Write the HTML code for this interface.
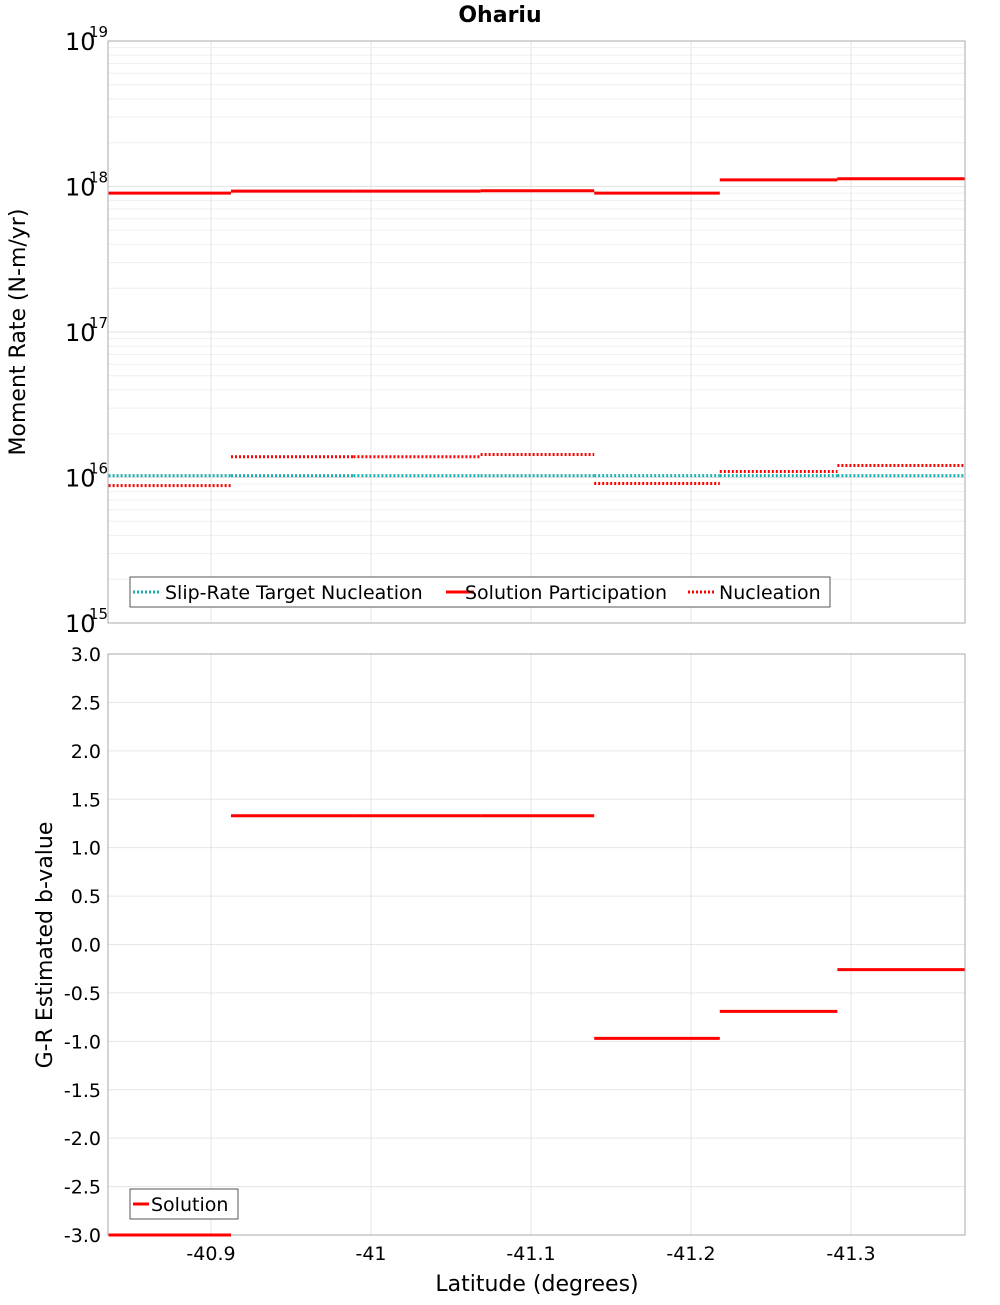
<!DOCTYPE html>
<html><head><meta charset="utf-8"><style>
body{margin:0;background:#fff;font-family:"Liberation Sans","DejaVu Sans",sans-serif}
svg text{font-family:"DejaVu Sans","Liberation Sans",sans-serif}
</style></head><body>
<svg id="chart" width="1000" height="1300" xmlns="http://www.w3.org/2000/svg">
<text x="500" y="22" text-anchor="middle" font-size="22" font-weight="bold">Ohariu</text>
<g id="topPlot"></g><g id="botPlot"></g>
</svg>
<script>
const binEdges=[-40.836,-40.9125,-40.989,-41.0685,-41.1395,-41.218,-41.2915,-41.371];
const solutionParticipation=[9.0e17,9.3e17,9.3e17,9.35e17,9.0e17,1.11e18,1.13e18];
const nucleation=[8.8e15,1.39e16,1.39e16,1.44e16,9.1e15,1.1e16,1.21e16];
const targetNucleation=[1.03e16,1.03e16,1.03e16,1.03e16,1.03e16,1.03e16,1.03e16];
const bValues=[-3.0,1.33,1.33,1.33,-0.97,-0.69,-0.26];
const xTicks=[-40.9,-41.0,-41.1,-41.2,-41.3];
const xTickLabels=["-40.9","-41","-41.1","-41.2","-41.3"];
const bTicks=[3.0,2.5,2.0,1.5,1.0,0.5,0.0,-0.5,-1.0,-1.5,-2.0,-2.5,-3.0];
const logExps=[15,16,17,18,19];

const NS="http://www.w3.org/2000/svg";
const L=108,R=965,T1=41,B1=623,T2=654,B2=1235;
const xS=v=>211-(v+40.9)*1600;
const yTop=v=>41+(19-Math.log10(v))*(B1-T1)/4;
const yBot=v=>T2+(3-v)*(B2-T2)/6;
function el(p,tag,a,txt){const e=document.createElementNS(NS,tag);for(const k in a)e.setAttribute(k,a[k]);if(txt!==undefined)e.textContent=txt;p.appendChild(e);return e;}
const topG=document.getElementById('topPlot'),botG=document.getElementById('botPlot');

el(topG,'rect',{x:L,y:T1,width:R-L,height:B1-T1,fill:'#fff',stroke:'none'});
for(let e=15;e<19;e++)for(let m=1;m<10;m++){const y=yTop(m*Math.pow(10,e));
const g=el(topG,'line',{x1:L,x2:R,y1:y,y2:y,stroke:m==1?'#e2e2e2':'#efefef','stroke-width':1});

}
xTicks.forEach(v=>{const g=el(topG,'line',{x1:xS(v),x2:xS(v),y1:T1,y2:B1,stroke:'#e6e6e6'});

});
const fr1=el(topG,'rect',{x:L,y:T1,width:R-L,height:B1-T1,fill:'none',stroke:'#aaa'});


logExps.forEach(e=>{const y=yTop(Math.pow(10,e));
const t=el(topG,'text',{x:65,y:y+9,'font-size':24},'10');


const s=el(topG,'text',{x:89,y:y-4,'font-size':15},String(e));

});
const yt1=el(topG,'text',{x:0,y:0,'font-size':22,'text-anchor':'middle',transform:`translate(25,332) rotate(-90)`},'Moment Rate (N-m/yr)');


function steps(p,arr,yf,color,dash,name){for(let i=0;i<arr.length;i++){
const l=el(p,'line',{x1:xS(binEdges[i]),x2:xS(binEdges[i+1]),y1:yf(arr[i]),y2:yf(arr[i]),stroke:color,'stroke-width':3});
if(dash)l.setAttribute('stroke-dasharray','2,2');

}}
steps(topG,targetNucleation,yTop,'#1ab0b0',true,'target-nucleation-segment');
steps(topG,solutionParticipation,yTop,'#ff0000',false,'solution-participation-segment');
steps(topG,nucleation,yTop,'#ff0000',true,'nucleation-segment');
const lg=el(topG,'g',{});


el(lg,'rect',{x:130,y:577,width:700,height:30,fill:'#fff',stroke:'#555'});
[[133,'#1ab0b0',true,'Slip-Rate Target Nucleation',165],[446,'#ff0000',false,'Solution Participation',465],[688,'#ff0000',true,'Nucleation',719]].forEach(([x,c,d,t,tx])=>{
const ln=el(lg,'line',{x1:x,x2:x+28,y1:592,y2:592,stroke:c,'stroke-width':3});
if(d)ln.setAttribute('stroke-dasharray','2,2');


const tt=el(lg,'text',{x:tx,y:599,'font-size':19},t);

});

bTicks.forEach(v=>{const y=yBot(v);
const g=el(botG,'line',{x1:L,x2:R,y1:y,y2:y,stroke:'#e6e6e6'});


const t=el(botG,'text',{x:101,y:y+7,'font-size':19,'text-anchor':'end'},v.toFixed(1));

});
xTicks.forEach((v,i)=>{const x=xS(v);
const g=el(botG,'line',{x1:x,x2:x,y1:T2,y2:B2,stroke:'#e6e6e6'});


const t=el(botG,'text',{x:x,y:1260,'font-size':19,'text-anchor':'middle'},xTickLabels[i]);

});
const fr2=el(botG,'rect',{x:L,y:T2,width:R-L,height:B2-T2,fill:'none',stroke:'#aaa'});


steps(botG,bValues,yBot,'#ff0000',false,'b-value-segment');
const yt2=el(botG,'text',{x:0,y:0,'font-size':22,'text-anchor':'middle',transform:`translate(52,945) rotate(-90)`},'G-R Estimated b-value');


const xt=el(botG,'text',{x:537,y:1291,'font-size':22,'text-anchor':'middle'},'Latitude (degrees)');


const lg2=el(botG,'g',{});


el(lg2,'rect',{x:130,y:1189,width:108,height:30,fill:'#fff',stroke:'#555'});
const s2=el(lg2,'line',{x1:133,x2:149,y1:1204,y2:1204,stroke:'#ff0000','stroke-width':3});


const t2=el(lg2,'text',{x:151,y:1211,'font-size':19},'Solution');


</script>
</body></html>
